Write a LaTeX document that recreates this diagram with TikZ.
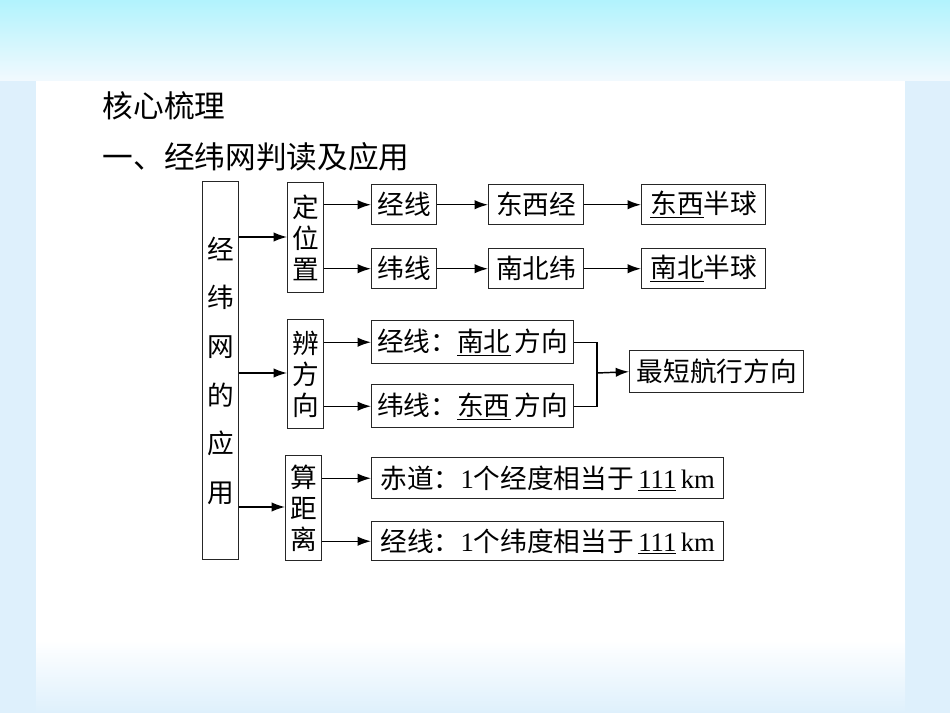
\documentclass[tikz,border=0pt]{standalone}
\usepackage{fontspec}
\setmainfont{Liberation Serif}
\newfontfamily\cjk{Noto Sans CJK SC}
\usetikzlibrary{arrows.meta,positioning}
\definecolor{bgb}{RGB}{222,240,252}
\tikzset{
  bx/.style={draw=black!85,line width=1.1pt,inner sep=0pt,font=\fontsize{20}{22}\selectfont\cjk},
  ar/.style={line width=1.1pt,-{Latex[length=10pt,width=7pt]}},
  ln/.style={line width=1.1pt}
}
\newcommand{\bxat}[6]{\node[bx,minimum width=#4*0.75pt-#2*0.75pt,minimum height=#5*0.75pt-#3*0.75pt,anchor=north west] (#1) at (#2,#3) {#6};}
\begin{document}
\begin{tikzpicture}[x=0.75pt,y=-0.75pt]
\useasboundingbox (0,0) rectangle (950,713);
\shade[top color=bgb!80!cyan,bottom color=bgb!40] (0,0) rectangle (950,81);
\fill[bgb] (0,81) rectangle (36,713);
\fill[bgb] (905,81) rectangle (950,713);
\shade[top color=white,bottom color=bgb] (36,640) rectangle (905,713);
\fill[white] (36,81) rectangle (905,640);
\node[anchor=west,font=\fontsize{23}{26}\selectfont\cjk] (t1) at (98,106) {核心梳理};
\node[anchor=west,font=\fontsize{23}{26}\selectfont\cjk] (t2) at (98,157) {一、经纬网判读及应用};
\bxat{main}{202}{181}{238}{559}{}
\node[font=\fontsize{20}{36.5}\selectfont\cjk,align=center] (maint) at (main) {经\\纬\\网\\的\\应\\用};
\bxat{dw}{287}{182}{323}{292}{}
\node[font=\fontsize{20}{23.5}\selectfont\cjk,align=center] at (dw) {定\\位\\置};
\bxat{bf}{287}{319}{323}{428}{}
\node[font=\fontsize{20}{23.5}\selectfont\cjk,align=center] at (bf) {辨\\方\\向};
\bxat{sj}{285}{455}{321}{560}{}
\node[font=\fontsize{20}{23.5}\selectfont\cjk,align=center] at (sj) {算\\距\\离};
\bxat{jx}{371}{184}{436}{224}{经线}
\bxat{wx}{371}{248}{436}{288}{纬线}
\bxat{dxj}{488}{184}{583}{224}{东西经}
\bxat{nbw}{488}{248}{583}{288}{南北纬}
\bxat{dxbq}{641}{184}{765}{224}{\underline{东西}半球}
\bxat{nbbq}{641}{248}{765}{288}{\underline{南北}半球}
\bxat{jfx}{371}{320}{573}{363}{经线：\underline{南北}\,方向}
\bxat{wfx}{371}{384}{573}{427}{纬线：\underline{东西}\,方向}
\bxat{zd}{629}{350}{803}{392}{最短航行方向}
\bxat{cd}{371}{457}{723}{498}{赤道：{\rmfamily 1}个经度相当于\,{\rmfamily\underline{111}\,km}}
\bxat{jd}{371}{521}{723}{560}{经线：{\rmfamily 1}个纬度相当于\,{\rmfamily\underline{111}\,km}}
\draw[ar] (main.east|-0,237) -- (dw.west|-0,237);
\draw[ar] (main.east|-0,373) -- (bf.west|-0,373);
\draw[ar] (main.east|-0,507) -- (sj.west|-0,507);
\draw[ar] (dw.east|-jx) -- (jx.west);
\draw[ar] (dw.east|-wx) -- (wx.west);
\draw[ar] (jx) -- (dxj);
\draw[ar] (wx) -- (nbw);
\draw[ar] (dxj) -- (dxbq);
\draw[ar] (nbw) -- (nbbq);
\draw[ar] (bf.east|-jfx) -- (jfx.west);
\draw[ar] (bf.east|-wfx) -- (wfx.west);
\draw[ar] (sj.east|-cd) -- (cd.west);
\draw[ar] (sj.east|-jd) -- (jd.west);
\coordinate (m) at (597,373);
\draw[ln] (jfx.east) -| (m) |- (wfx.east);
\draw[ar] (m) -- (zd.west);
\end{tikzpicture}
\end{document}
